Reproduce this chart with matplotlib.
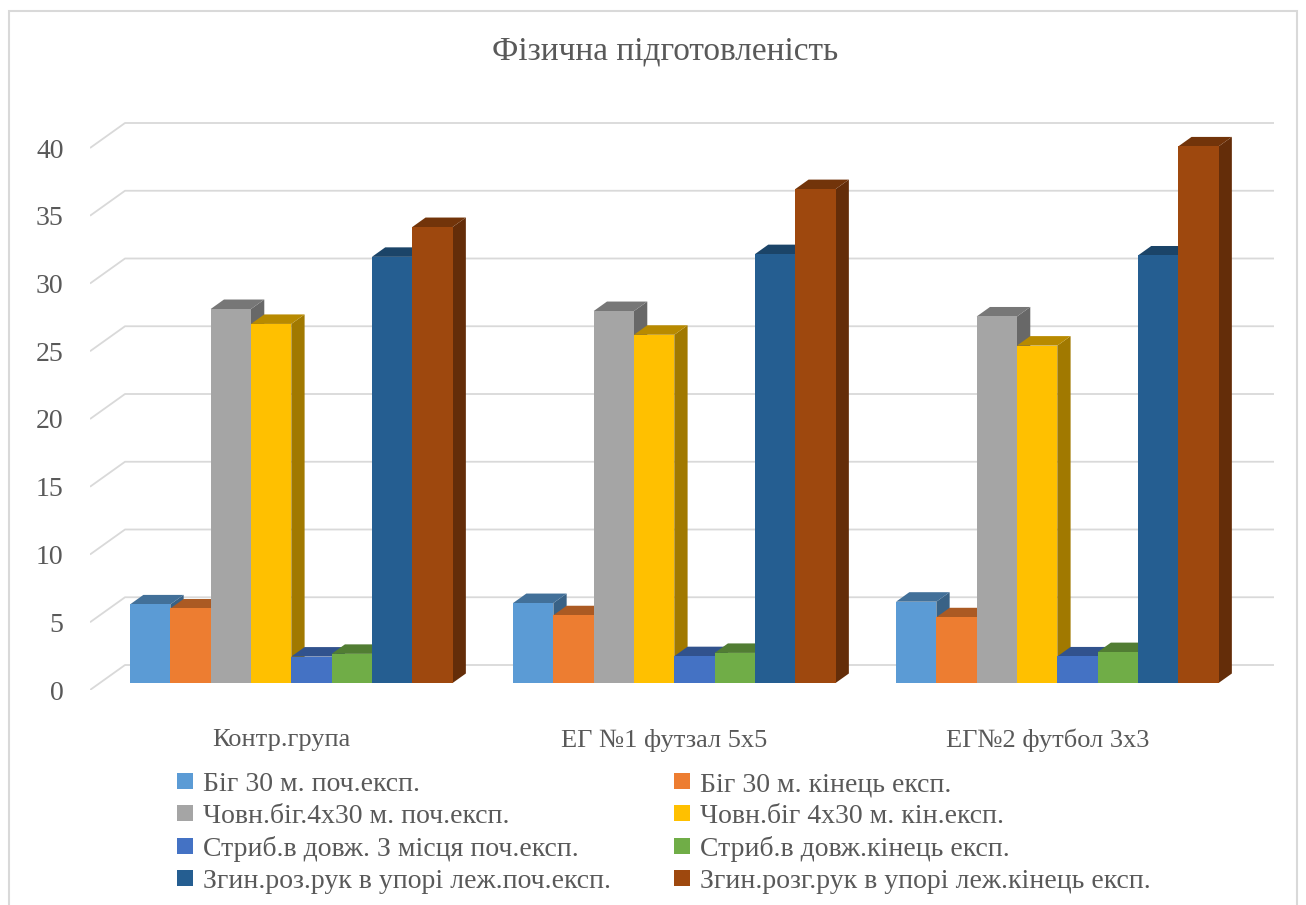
import numpy as np
import matplotlib
matplotlib.use("Agg")
import matplotlib.pyplot as plt
from matplotlib.patches import Polygon, Rectangle, Patch
from matplotlib.transforms import ScaledTranslation
from matplotlib.colors import to_rgb

plt.rcParams['font.family'] = ['Liberation Serif', 'DejaVu Serif']

# --- дані ---
title = "Фізична підготовленість"
groups = ["Контр.група", "ЕГ №1 футзал 5х5", "ЕГ№2 футбол 3х3"]
series_names = [
    "Біг 30 м. поч.експ.",
    "Біг 30 м. кінець експ.",
    "Човн.біг.4х30 м. поч.експ.",
    "Човн.біг 4х30 м. кін.експ.",
    "Стриб.в довж. З місця поч.експ.",
    "Стриб.в довж.кінець експ.",
    "Згин.роз.рук в упорі леж.поч.експ.",
    "Згин.розг.рук в упорі леж.кінець експ.",
]
big_start = [5.8, 5.9, 6.0]
big_end = [5.5, 5.0, 4.85]
shuttle_start = [27.6, 27.45, 27.05]
shuttle_end = [26.5, 25.7, 24.9]
jump_start = [1.95, 1.98, 1.96]
jump_end = [2.15, 2.22, 2.28]
pushup_start = [31.45, 31.65, 31.55]
pushup_end = [33.65, 36.45, 39.6]
series_values = [big_start, big_end, shuttle_start, shuttle_end,
                 jump_start, jump_end, pushup_start, pushup_end]
colors = ["#5B9BD5", "#ED7D31", "#A5A5A5", "#FFC000",
          "#4472C4", "#70AD47", "#255E91", "#9E480E"]
yticks = np.arange(0, 41, 5)

TXT = "#595959"
GRID = "#D9D9D9"


def shade(c, k):
    r, g, b = to_rgb(c)
    return (r * k, g * k, b * k)


W_PX, H_PX = 1306, 905
fig = plt.figure(figsize=(W_PX / 100, H_PX / 100), dpi=100)

# рамка діаграми
fig.patches.append(Rectangle((9 / W_PX, -0.01), (1297 - 9) / W_PX, 1.01 - 11 / H_PX,
                             transform=fig.transFigure, fill=False,
                             edgecolor=GRID, linewidth=1.5))

# передня площина: x 90..1239 px, y 0 -> 690 px, 13.55 px на одиницю
cat_px = 383.0
unit_px = 13.55
DX = 35 / cat_px          # глибина "підлоги" в одиницях категорії
DY = 25 / unit_px         # глибина в одиницях значення
ymax = (690 - 108) / unit_px
ax = fig.add_axes([90 / W_PX, (H_PX - 690) / H_PX,
                   (1274 - 90) / W_PX, (690 - 108) / H_PX])
ax.set_xlim(-0.5, 2.5 + DX)
ax.set_ylim(0, ymax)
for s in ax.spines.values():
    s.set_visible(False)

# сітка (задня стінка + ліва діагональ)
for t in yticks:
    ax.plot([-0.5, -0.5 + DX, 2.5 + DX], [t, t + DY, t + DY],
            color=GRID, lw=1.3, zorder=1, solid_capstyle='butt')

n = len(series_values)
w = 1 / (n + 1.5)
d0x, d0y = 0.28 * DX, 0.28 * DY
ddx, ddy = 0.38 * DX, 0.38 * DY
z = 2
for c in range(len(groups)):
    for j in range(n):
        v = series_values[j][c]
        col = colors[j]
        x0 = c - n * w / 2 + j * w + d0x
        x1 = x0 + w
        b = d0y
        top = v + d0y
        ax.add_patch(Polygon([(x1, b), (x1, top), (x1 + ddx, top + ddy), (x1 + ddx, b + ddy)],
                             closed=True, facecolor=shade(col, 0.63), edgecolor='none', zorder=z))
        ax.add_patch(Polygon([(x0, top), (x1, top), (x1 + ddx, top + ddy), (x0 + ddx, top + ddy)],
                             closed=True, facecolor=shade(col, 0.72), edgecolor='none', zorder=z))
        ax.add_patch(Rectangle((x0, b), w, v, facecolor=col, edgecolor='none', zorder=z + 0.5))
        z += 1

# підписи осі Y
ax.set_yticks(yticks)
ax.set_yticklabels([str(t) for t in yticks], fontsize=20, color=TXT)
ax.tick_params(axis='y', length=0, pad=19)
ax.set_xticks([])

# підписи категорій
off = ScaledTranslation(0, -50 / 100, fig.dpi_scale_trans)
for c, g in enumerate(groups):
    ax.text(c, 0, g, transform=ax.transData + off, ha='center', va='center',
            fontsize=19, color=TXT)

fig.text(665 / W_PX, 1 - 51 / H_PX, title, ha='center', va='center',
         fontsize=24, color=TXT)

# легенда (порядок по рядках)
handles = [Patch(facecolor=colors[j], edgecolor='none') for j in range(n)]
order = [0, 2, 4, 6, 1, 3, 5, 7]
fig.legend([handles[i] for i in order], [series_names[i] for i in order],
           ncol=2, loc='upper left', bbox_to_anchor=(177 / W_PX, 1 - 772 / H_PX),
           frameon=False, fontsize=20, labelcolor=TXT,
           handlelength=0.58, handleheight=0.47, handletextpad=0.36,
           labelspacing=0.25, columnspacing=2.27, borderpad=0, borderaxespad=0)

fig.savefig("out.png", dpi=100)
